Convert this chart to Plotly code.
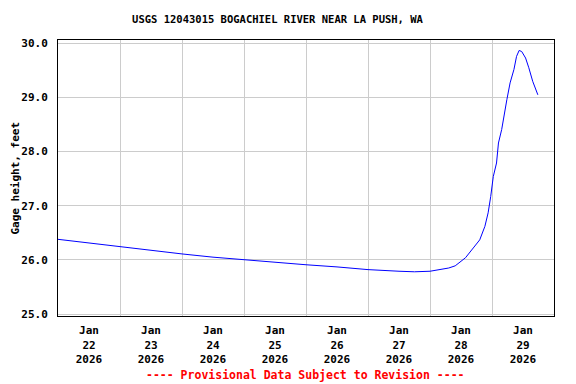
import plotly.graph_objects as go

# --- data ---
times = [
    "2026-01-22 00:00", "2026-01-22 12:00", "2026-01-23 00:00", "2026-01-23 12:00",
    "2026-01-24 00:00", "2026-01-24 12:00", "2026-01-25 00:00", "2026-01-25 12:00",
    "2026-01-26 00:00", "2026-01-26 12:00", "2026-01-27 00:00", "2026-01-27 12:00",
    "2026-01-27 18:00", "2026-01-28 00:00", "2026-01-28 03:45", "2026-01-28 07:15",
    "2026-01-28 09:45", "2026-01-28 13:45", "2026-01-28 16:45", "2026-01-28 19:15",
    "2026-01-28 21:15", "2026-01-28 22:30", "2026-01-28 23:30", "2026-01-29 00:30",
    "2026-01-29 01:45", "2026-01-29 02:30", "2026-01-29 03:45", "2026-01-29 04:45",
    "2026-01-29 05:45", "2026-01-29 07:00", "2026-01-29 08:30", "2026-01-29 09:30",
    "2026-01-29 10:30", "2026-01-29 11:30", "2026-01-29 13:00", "2026-01-29 14:15",
    "2026-01-29 15:45", "2026-01-29 17:45",
]
gage_height = [
    26.38, 26.31, 26.24, 26.18,
    26.11, 26.05, 26.00, 25.95,
    25.91, 25.87, 25.82, 25.79,
    25.78, 25.79, 25.82, 25.85,
    25.89, 26.04, 26.22, 26.37,
    26.62, 26.87, 27.17, 27.54,
    27.79, 28.16, 28.41, 28.72,
    28.96, 29.27, 29.52, 29.76,
    29.87, 29.85, 29.73, 29.55,
    29.30, 29.05,
]
label_positions = ["2026-01-%02d 12:00" % d for d in range(22, 30)]
tick_labels = ["Jan<br>%d<br>2026" % d for d in range(22, 30)]
day_boundaries = ["2026-01-%02d 00:00" % d for d in range(23, 30)]
y_ticks = [25, 26, 27, 28, 29, 30]
y_tick_labels = ["25.0", "26.0", "27.0", "28.0", "29.0", "30.0"]

FONT = "DejaVu Sans Mono"
OFF = 8  # page body margin of the default html

fig = go.Figure()
fig.add_trace(go.Scatter(x=times, y=gage_height, mode="lines",
                         line=dict(color="#0000ff", width=1), hoverinfo="x+y"))

fig.update_layout(
    width=576, height=384,
    margin=dict(l=58 - OFF, r=22 + OFF, t=40 - OFF, b=68 + OFF),
    paper_bgcolor="white", plot_bgcolor="white",
    showlegend=False,
    font=dict(family=FONT, size=11, color="black"),
    title=dict(text="<b>USGS 12043015 BOGACHIEL RIVER NEAR LA PUSH, WA</b>",
               x=(277.5 - OFF) / 576, xanchor="center", y=1 - (19 - OFF) / 384, yanchor="middle",
               font=dict(family=FONT, size=10.5, color="black")),
    xaxis=dict(
        range=["2026-01-22 00:00", "2026-01-30 00:00"],
        tickmode="array", tickvals=label_positions, ticktext=["<b>%s</b>" % t for t in tick_labels],
        showgrid=False, ticks="", ticklabelstandoff=4, automargin=False,
        minor=dict(tickmode="array", tickvals=day_boundaries, showgrid=True,
                   gridcolor="#cccccc", gridwidth=1, ticks=""),
        showline=True, linecolor="black", linewidth=1, mirror=True,
        zeroline=False, tickangle=0,
        tickfont=dict(family=FONT, size=11, color="black"),
    ),
    yaxis=dict(
        range=[24.963, 30.063],
        tickmode="array", tickvals=y_ticks, ticktext=["<b>%s</b>" % t for t in y_tick_labels],
        showgrid=True, gridcolor="#cccccc", gridwidth=1, automargin=False,
        showline=True, linecolor="black", linewidth=1, mirror=True,
        zeroline=False, ticks="", ticklabelstandoff=7,
        tickfont=dict(family=FONT, size=11, color="black"),
    ),
    annotations=[
        dict(text="<b>Gage height, feet</b>", xref="paper", yref="paper",
             x=(14.5 - 58) / 496, y=0.5, xanchor="center", yanchor="middle",
             textangle=-90, showarrow=False,
             font=dict(family=FONT, size=11, color="black")),
        dict(text="<b>---- Provisional Data Subject to Revision ----</b>",
             xref="paper", yref="paper", x=(305 - 58) / 496, y=(316 - 375) / 276,
             xanchor="center", yanchor="middle", showarrow=False,
             font=dict(family=FONT, size=11.5, color="red")),
    ],
)

fig.write_html("out.html")
